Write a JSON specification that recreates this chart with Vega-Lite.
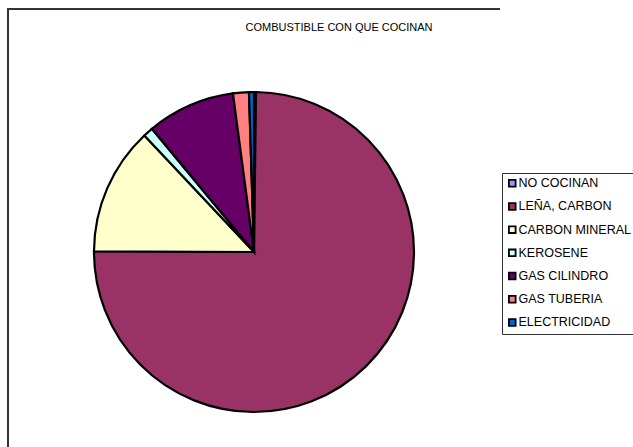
{
  "$schema": "https://vega.github.io/schema/vega-lite/v6.json",
  "width": 492,
  "height": 486,
  "autosize": {"type": "none"},
  "padding": {"left": 8, "top": 9, "right": 141, "bottom": 0},
  "background": "white",
  "view": {"stroke": "#333333", "strokeWidth": 2, "strokeDash": [492, 978, 486, 1]},
  "config": {
    "font": "Liberation Sans"
  },
  "title": {
    "text": "COMBUSTIBLE CON QUE COCINAN",
    "fontSize": 11,
    "fontWeight": "normal",
    "font": "Liberation Sans",
    "color": "black",
    "anchor": "middle",
    "frame": "group",
    "dx": 85,
    "dy": 28
  },
  "data": {
    "values": [
      {"combustible": "NO COCINAN", "porcentaje": 0.2, "orden": 1},
      {"combustible": "LEÑA, CARBON", "porcentaje": 74.8, "orden": 2},
      {"combustible": "CARBON MINERAL", "porcentaje": 12.9, "orden": 3},
      {"combustible": "KEROSENE", "porcentaje": 1.0, "orden": 4},
      {"combustible": "GAS CILINDRO", "porcentaje": 8.9, "orden": 5},
      {"combustible": "GAS TUBERIA", "porcentaje": 1.6, "orden": 6},
      {"combustible": "ELECTRICIDAD", "porcentaje": 0.5, "orden": 7}
    ]
  },
  "mark": {"type": "arc", "radius": 160, "stroke": "black", "strokeWidth": 2.2},
  "encoding": {
    "theta": {"field": "porcentaje", "type": "quantitative", "stack": true},
    "order": {"field": "orden", "type": "quantitative"},
    "color": {
      "field": "combustible",
      "type": "nominal",
      "sort": ["NO COCINAN", "LEÑA, CARBON", "CARBON MINERAL", "KEROSENE", "GAS CILINDRO", "GAS TUBERIA", "ELECTRICIDAD"],
      "scale": {
        "domain": ["NO COCINAN", "LEÑA, CARBON", "CARBON MINERAL", "KEROSENE", "GAS CILINDRO", "GAS TUBERIA", "ELECTRICIDAD"],
        "range": ["#9999FF", "#993366", "#FFFFCC", "#CCFFFF", "#660066", "#FF8080", "#0066CC"]
      },
      "legend": {
        "title": null,
        "orient": "none",
        "legendX": 494,
        "legendY": 164,
        "strokeColor": "#333333",
        "fillColor": "white",
        "padding": 4,
        "symbolType": "square",
        "symbolSize": 45,
        "symbolStrokeColor": "black",
        "symbolStrokeWidth": 1.8,
        "labelFontSize": 12.5,
        "labelColor": "black",
        "labelFont": "Liberation Sans",
        "rowPadding": 8.2,
        "labelOffset": 0
      }
    }
  }
}
